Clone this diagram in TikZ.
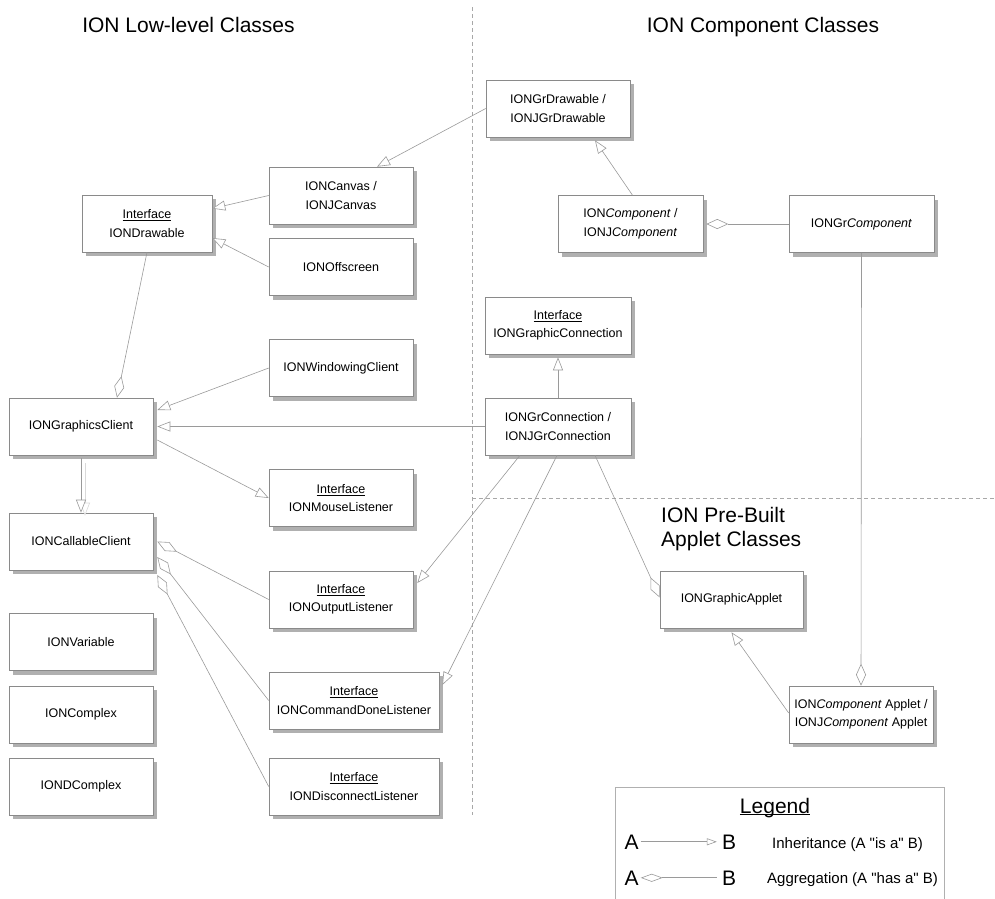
\documentclass[tikz,border=0pt]{standalone}
\usepackage{fontspec}
\setmainfont{Liberation Sans}[Ligatures=TeXOff]
\usetikzlibrary{arrows.meta,shadows}
\definecolor{boxline}{HTML}{8A8A8A}
\definecolor{conline}{HTML}{9A9A9A}
\definecolor{shadowc}{HTML}{B0B0B0}
\definecolor{dashc}{HTML}{A8A8A8}
\begin{document}
\begin{tikzpicture}[x=1pt,y=-1pt,
 cls/.style={draw=boxline, line width=0.6pt, fill=white, inner sep=0pt, align=center,
   font=\fontsize{12.5}{18.5}\selectfont, minimum height=57pt, minimum width=144pt,
   drop shadow={shadow xshift=4pt, shadow yshift=-4pt, fill=shadowc, opacity=1}},
 inh/.style={draw=conline, line width=0.6pt, -{Triangle[open, length=13pt, width=10pt, fill=white]}},
 agg/.style={draw=conline, line width=0.6pt, -{Diamond[open, length=22pt, width=10pt, fill=white]}},
 sep/.style={draw=dashc, line width=0.7pt, dash pattern=on 4pt off 3pt},
 title/.style={font=\fontsize{21}{24}\selectfont, inner sep=0pt},
 legtxt/.style={font=\fontsize{15}{18}\selectfont, inner sep=0pt},
 legletter/.style={font=\fontsize{21}{24}\selectfont, inner sep=2pt}
]
\useasboundingbox (0,0) rectangle (995,898);

% separators
\draw[sep] (472,7) -- (472,815);
\draw[sep] (472,498) -- (995,498);

% titles
\node[title, anchor=base] (t1) at (188.5,32) {ION Low-level Classes};
\node[title, anchor=base] (t2) at (763,32) {ION Component Classes};
\node[title, anchor=base west] (t3a) at (661,522) {ION Pre-Built};
\node[title, anchor=base west] (t3b) at (661,546) {Applet Classes};

% classes
\node[cls] (gdraw) at (558,108.5) {IONGrDrawable /\\IONJGrDrawable};
\node[cls] (canvas) at (341,195.5) {IONCanvas /\\IONJCanvas};
\node[cls] (offscreen) at (341,267) {IONOffscreen};
\node[cls, minimum width=130pt] (drawable) at (147,223.5) {\underline{Interface}\\IONDrawable};
\node[cls, minimum width=145pt] (comp) at (630.5,224) {ION\textit{Component} /\\IONJ\textit{Component}};
\node[cls, minimum width=145pt] (grcomp) at (861.5,224) {IONGr\textit{Component}};
\node[cls, minimum width=146pt] (gconn) at (558,325.5) {\underline{Interface}\\IONGraphicConnection};
\node[cls, minimum width=146pt] (grconn) at (558,426.5) {IONGrConnection /\\IONJGrConnection};
\node[cls] (winclient) at (341,368) {IONWindowingClient};
\node[cls] (gclient) at (81,426.5) {IONGraphicsClient};
\node[cls] (mouse) at (341,498) {\underline{Interface}\\IONMouseListener};
\node[cls] (callable) at (81,541.5) {IONCallableClient};
\node[cls] (output) at (341,599.5) {\underline{Interface}\\IONOutputListener};
\node[cls] (variable) at (81,642) {IONVariable};
\node[cls] (complex) at (81,714.5) {IONComplex};
\node[cls] (dcomplex) at (81,786.5) {IONDComplex};
\node[cls, minimum width=170pt] (cmddone) at (354,700.5) {\underline{Interface}\\IONCommandDoneListener};
\node[cls, minimum width=170pt] (disconnect) at (354,786.5) {\underline{Interface}\\IONDisconnectListener};
\node[cls, minimum width=143pt] (gapplet) at (731.5,599.5) {IONGraphicApplet};
\node[cls] (compapplet) at (861,714.5) {ION\textit{Component} Applet /\\IONJ\textit{Component} Applet};

% connectors
\draw[inh] (canvas.west) -- ([yshift=15pt]drawable.east);
\draw[inh] (offscreen.west) -- ([yshift=-14.5pt]drawable.east);
\draw[inh] (gdraw.west) -- ([xshift=36pt]canvas.north);
\draw[inh] ([xshift=2pt]comp.north) -- ([xshift=37pt,yshift=-3pt]gdraw.south);
\draw[agg] (grcomp.west) -- ([xshift=3pt]comp.east);
\draw[agg] (grcomp.south) -- (compapplet.north);
\draw[agg] (drawable.south) -- ([xshift=36pt]gclient.north);
\draw[inh] (winclient.west) -- ([xshift=4pt,yshift=16.5pt]gclient.east);
\draw[inh] (grconn.west) -- ([xshift=4pt]gclient.east);
\draw[inh] ([xshift=4pt,yshift=-13.5pt]gclient.east) -- (mouse.west);
\draw[inh, draw=black!15] ([xshift=4pt,yshift=-8pt]gclient.south) -- ([xshift=4pt,yshift=-3pt]callable.north);
\draw[inh] ([yshift=-3pt]gclient.south) -- (callable.north);
\draw[agg] (output.west) -- ([xshift=4pt]callable.east);
\draw[agg] (cmddone.west) -- ([xshift=4pt,yshift=-15.5pt]callable.east);
\draw[agg] (disconnect.west) -- ([xshift=4pt,yshift=-33.5pt]callable.east);
\draw[inh] ([xshift=-38pt]grconn.south) -- ([xshift=4pt,yshift=16.5pt]output.east);
\draw[inh] ([xshift=-1pt]grconn.south) -- ([xshift=3pt,yshift=15.5pt]cmddone.east);
\draw[agg] ([xshift=37pt]grconn.south) -- ([yshift=2pt]gapplet.west);
\draw[inh] (grconn.north) -- ([yshift=-3pt]gconn.south);
\draw[inh] ([yshift=1.5pt]compapplet.west) -- ([yshift=-4pt]gapplet.south);

% legend
\draw[draw=shadowc, line width=0.7pt] (615,910) -- (615,787) -- (944,787) -- (944,910);
\node[font=\fontsize{21}{24}\selectfont, inner sep=0pt, anchor=base] (legtitle) at (775,813) {\underline{\smash{Legend}}};
\node[legletter, anchor=base] (la1) at (631.5,849) {A};
\node[legletter, anchor=base] (lb1) at (729,849) {B};
\node[legletter, anchor=base] (la2) at (631.5,885) {A};
\node[legletter, anchor=base] (lb2) at (729,885) {B};
\draw[draw=conline, line width=0.6pt, shorten >=3pt, -{Triangle[open, length=10pt, width=7pt, fill=white]}] (la1.east) -- (lb1.west);
\draw[draw=conline, line width=0.6pt, shorten >=3pt, {Diamond[open, length=22pt, width=8pt, fill=white]}-] (la2.east) -- (lb2.west);
\node[legtxt, anchor=base west] (inhtxt) at (772,848) {Inheritance (A "is a" B)};
\node[legtxt, anchor=base west] (aggtxt) at (767,883) {Aggregation (A "has a" B)};
\end{tikzpicture}
\end{document}
